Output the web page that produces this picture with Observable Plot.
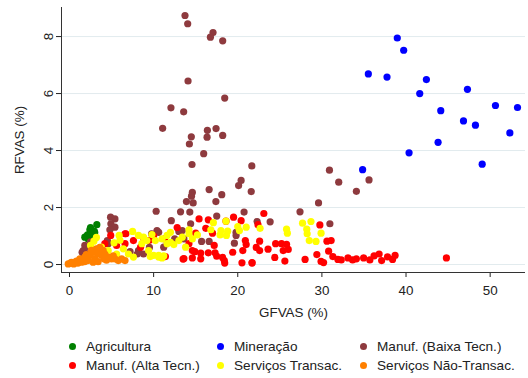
<!DOCTYPE html>
<html><head><meta charset="utf-8">
<script src="https://cdn.jsdelivr.net/npm/d3@7"></script>
<script src="https://cdn.jsdelivr.net/npm/@observablehq/plot@0.6"></script>
<style>
body{margin:0;background:#fff;font-family:"Liberation Sans",Arial,sans-serif;}
#chart svg{display:block;}
#legend{display:grid;grid-template-columns:148px 143px 160px;padding:9px 0 0 69px;font-size:13.6px;color:#222;}
#legend .item{height:19px;display:flex;align-items:center;white-space:nowrap;}
#legend .sw{width:7px;height:7px;border-radius:50%;margin-right:10px;flex:none;}
</style></head><body><div id="chart"></div><div id="legend"></div>
<script>
const sectors = ["Agricultura","Mineração","Manuf. (Baixa Tecn.)","Manuf. (Alta Tecn.)","Serviços Transac.","Serviços Não-Transac."];
const colors = ["#008000","#0000ff","#8e3a3e","#ff0000","#ffff00","#ff8000"];
const xTicks = [0,10,20,30,40,50];
const yTicks = [0,2,4,6,8];
const xDomain = [-0.95, 54.2];
const yDomain = [-0.28, 9.02];

const agricultura = [[3.25,1.40],[2.94,1.17],[2.42,1.22],[2.14,1.04],[1.82,0.96],[2.62,1.02],[2.22,0.90],[3.0,1.12],[2.5,1.3]];
const mineracao = [[38.96,7.95],[39.72,7.52],[35.52,6.69],[37.74,6.58],[42.42,6.49],[41.63,6.0],[47.3,6.15],[44.13,5.40],[50.63,5.58],[53.25,5.51],[46.83,5.04],[48.25,4.89],[52.34,4.62],[43.81,4.29],[40.36,3.92],[49.05,3.52],[34.84,3.33]];
const manufBaixa = [[13.73,8.74],[14.05,8.45],[17.06,8.14],[16.75,7.98],[18.21,7.85],[14.09,6.44],[18.45,5.84],[12.06,5.50],[13.57,5.36],[11.07,4.78],[16.39,4.71],[17.42,4.77],[14.48,4.48],[16.35,4.47],[18.21,4.53],[14.25,4.23],[15.95,3.89],[14.56,3.51],[21.67,3.46],[20.4,2.95],
[20.1,2.77],[21.6,2.56],[30.9,3.31],[32.0,2.89],[34.1,2.57],[35.6,2.97],[29.6,2.16],[27.4,1.85],[22.3,1.51],[23.85,1.50],[30.95,1.43],
[16.6,2.63],[14.6,2.53],[14.5,2.40],[18.1,2.45],[13.9,2.21],[17.4,2.21],[14.7,2.16],[10.3,1.87],[13.2,1.85],[14.3,1.84],[17.5,1.70],[20.75,1.84],[12.1,1.54],[14.4,1.43],[10.6,1.13],[13.0,1.16],[13.4,1.19],[13.6,0.9],[15.7,0.81],[16.6,0.81],[19.8,1.13],[19.6,0.75],[19.8,1.02],
[4.88,1.66],[5.4,1.60],[4.92,1.43],[5.4,1.31],[4.8,1.22],[9.76,1.08],[1.82,0.67],[1.63,0.49],[2.0,0.37],[8.8,0.37],[8.2,0.49],[3.8,0.55],[4.6,0.73],[4.5,0.84],[2.1,0.61],[1.5,0.43],[1.7,0.26],[10.4,1.19],[11.2,0.61],[8.05,0.37],[2.5,0.8],[3.2,0.5],[7.2,0.45],[12.5,0.9],[9.5,0.6]];
const manufAlta = [[4.9,1.02],[6.6,1.08],[4.2,0.73],[7.6,0.84],[5.6,0.67],[6.6,0.73],[6.7,1.08],[8.85,0.9],[8.45,0.61],[11.3,0.90],[11.4,0.28],
[13.5,0.19],[13.6,0.21],[14.6,0.23],[15.6,0.20],[14.9,0.45],[15.6,0.40],[16.5,0.41],[17.3,0.41],[17.5,0.29],[18.2,0.25],[18.45,0.05],[20.5,0.06],[21.7,0.07],[20.6,0.49],[19.4,0.43],[14.2,0.73],[17.2,0.67],[15.4,1.60],[16.5,1.57],[18.6,1.52],[19.5,1.66],[20.4,1.54],[16.2,1.27],[20.9,0.84],[21.0,0.70],[18.4,0.14],[14.6,0.49],
[23.1,1.79],[22.4,1.40],[29.76,1.39],[22.6,0.82],[22.2,0.60],[22.6,0.49],[23.6,0.54],[24.5,0.73],[25.2,0.73],[25.8,0.71],[25.4,0.49],[26.0,0.53],[24.4,0.25],[25.6,0.12],[21.7,0.05],[28.0,0.18],[29.4,0.35],[29.9,0.11],[30.6,0.82],[31.1,0.84],[30.8,0.47],[31.3,0.28],[31.9,0.18],[30.2,0.07],
[32.3,0.16],[33.1,0.23],[33.65,0.16],[34.1,0.20],[34.96,0.23],[35.7,0.16],[36.2,0.30],[36.8,0.37],[37.1,0.14],[37.8,0.27],[38.4,0.18],[38.7,0.32],[44.8,0.23],
[12.8,1.3],[10.0,1.0],[9.5,0.85],[15.0,1.1],[17.0,1.1]];
const servTransac = [[7.5,1.16],[5.9,1.02],[2.9,0.82],[5.3,0.76],[3.8,0.61],[6.4,0.55],[7.0,0.37],[7.6,0.26],[8.6,0.73],[9.2,0.84],[9.4,0.49],[10.0,0.32],[10.6,0.26],[8.2,1.02],[8.8,0.96],[10.2,0.84],[4.6,0.49],[5.6,0.37],
[17.1,1.47],[18.6,1.52],[20.0,1.33],[21.0,1.31],[16.8,1.22],[18.0,1.19],[18.8,1.17],[17.9,1.04],[18.65,1.02],[14.2,1.22],[14.2,1.08],[15.2,1.04],[14.6,0.90],[13.4,0.96],[13.0,0.84],[13.8,0.61],[12.0,1.13],[11.6,1.02],[11.0,0.90],[12.0,0.78],[10.6,0.32],[11.0,0.23],[20.2,1.19],
[22.65,1.27],[25.8,1.24],[25.9,1.10],[27.7,1.45],[28.7,1.51],[28.2,1.24],[28.25,1.08],[29.9,1.10],[28.5,0.84],[29.3,0.81],
[3.2,0.95],[2.5,0.67],[9.8,1.05],[11.6,0.73],[12.4,0.7],[6.0,0.85],[9.6,0.28],[11.2,0.3]];
const servNaoTransac = [[-0.15,0.02],[0.24,0.08],[0.83,0.12],[1.23,0.20],[1.82,0.26],[2.42,0.32],[2.82,0.43],[3.4,0.37],[3.8,0.32],[3.0,0.20],[2.2,0.14],[1.43,0.08],[4.6,0.26],[5.0,0.20],[5.4,0.20],[6.2,0.20],[5.8,0.14],[6.6,0.14],[4.2,0.37],[0.5,0.02],[0.1,0.05],[1.0,0.05],[2.6,0.5],[3.2,0.55],[3.6,0.6],[4.0,0.5],[4.4,0.15],[3.4,0.1],[2.8,0.08],[1.8,0.1],[5.2,0.3],[0.6,0.08],[2.0,0.35],[4.1,0.2],[2.9,0.43]];

const groups = [agricultura, mineracao, manufBaixa, manufAlta, servTransac, servNaoTransac];
const rows = groups.flatMap((g, i) => g.map(([x, y]) => ({x, y, sector: sectors[i]})));

const chart = Plot.plot({
  width: 528, height: 328,
  marginLeft: 61, marginRight: 3, marginTop: 7, marginBottom: 56,
  style: {fontFamily: "Liberation Sans, Arial, sans-serif", fontSize: "13.4px", color: "#222", background: "#fff"},
  x: {domain: xDomain},
  y: {domain: yDomain},
  color: {domain: sectors, range: colors},
  marks: [
    Plot.gridY(yTicks, {stroke: "#e2ebee", strokeOpacity: 1, strokeWidth: 1}),
    Plot.axisX(xTicks, {tickSize: 5, tickPadding: 8, label: "GFVAS (%)", labelAnchor: "center", labelOffset: 44, labelArrow: "none"}),
    Plot.axisY(yTicks, {tickSize: 5, tickRotate: -90, label: "RFVAS (%)", labelAnchor: "center", labelOffset: 47, labelArrow: "none"}),
    Plot.ruleX([xDomain[0]], {stroke: "#333"}),
    Plot.ruleY([yDomain[0]], {stroke: "#333"}),
    Plot.dot(rows, {x: "x", y: "y", fill: "sector", r: 3.6})
  ]
});
document.getElementById("chart").appendChild(chart);

const legend = document.getElementById("legend");
for (let i = 0; i < sectors.length; i++) {
  const item = document.createElement("div");
  item.className = "item";
  const sw = document.createElement("span");
  sw.className = "sw";
  sw.style.background = colors[i];
  const t = document.createElement("span");
  t.textContent = sectors[i];
  item.appendChild(sw); item.appendChild(t);
  legend.appendChild(item);
}
</script></body></html>
